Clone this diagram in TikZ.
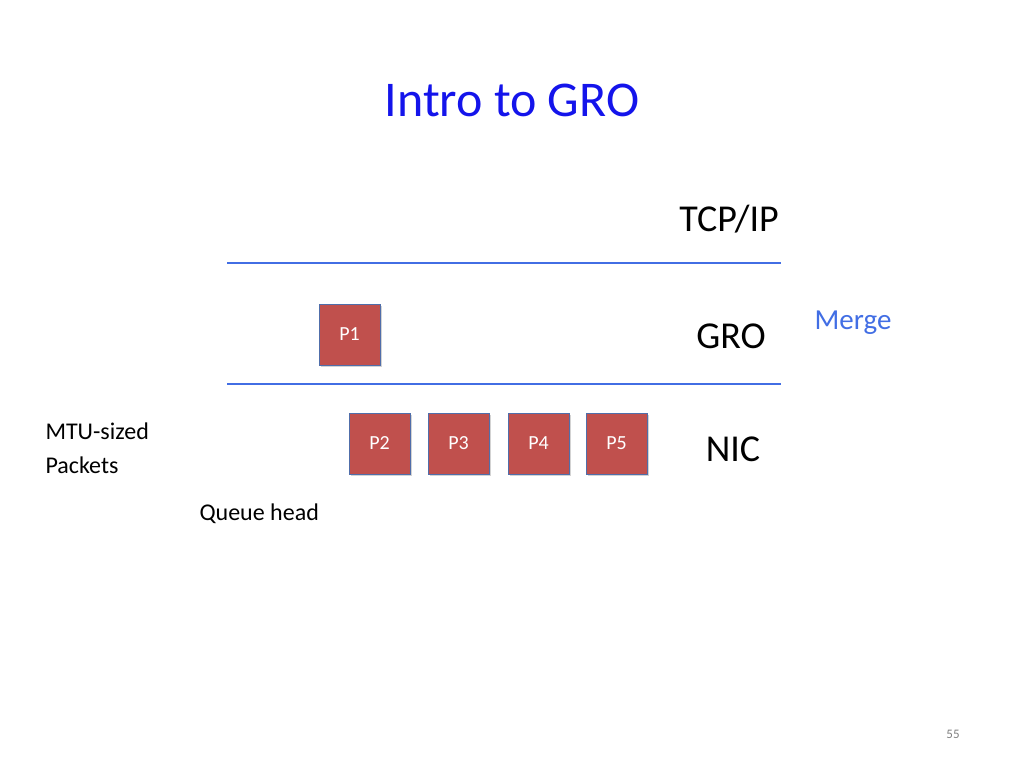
\documentclass[tikz,border=0pt]{standalone}
\usepackage{fontspec}
\setmainfont{Carlito}
\usetikzlibrary{shadows}
\definecolor{lineblue}{RGB}{66,110,228}
\definecolor{titleblue}{RGB}{20,20,235}
\definecolor{pkt}{RGB}{192,80,77}
\definecolor{pktb}{RGB}{80,110,170}
\begin{document}
\begin{tikzpicture}[x=1pt,y=-1pt,
  layer/.style={draw=lineblue,line width=2.5pt},
  pk/.style={draw=pktb,fill=pkt,line width=1pt,minimum width=61pt,minimum height=61pt,inner sep=0pt,text=white,font=\fontsize{20}{24}\selectfont,drop shadow={shadow xshift=1.5pt,shadow yshift=-1.5pt,opacity=0.35}},
  big/.style={font=\fontsize{38}{44}\selectfont},
  small/.style={font=\fontsize{24}{29}\selectfont,align=left}]
\useasboundingbox (0,0) rectangle (1024,768);
\node[font=\fontsize{50}{58}\selectfont,text=titleblue] (title) at (512,100) {Intro to GRO};
\coordinate (l1a) at (227,263); \coordinate (l1b) at (781,263);
\coordinate (l2a) at (227,384); \coordinate (l2b) at (781,384);
\draw[layer] (l1a) -- (l1b);
\draw[layer] (l2a) -- (l2b);
\node[big] (tcp) at (729,219) {TCP/IP};
\node[big] (gro) at (731,336) {GRO};
\node[big] (nic) at (733,449) {NIC};
\node[font=\fontsize{29}{34}\selectfont,text=lineblue] (merge) at (853,323) {Merge};
\node[pk] (p1) at (349.5,334.5) {P1};
\node[pk] (p2) at (379.5,443.5) {P2};
\node[pk] (p3) at (458.5,443.5) {P3};
\node[pk] (p4) at (538.5,443.5) {P4};
\node[pk] (p5) at (616.5,443.5) {P5};
\node[small,anchor=west,font=\fontsize{24}{34}\selectfont] (mtu) at (42,448) {MTU-sized\\Packets};
\node[small,anchor=west] (qh) at (196,514) {Queue head};
\node[font=\fontsize{13}{16}\selectfont,text=gray] (num) at (953,734) {55};
\end{tikzpicture}
\end{document}
